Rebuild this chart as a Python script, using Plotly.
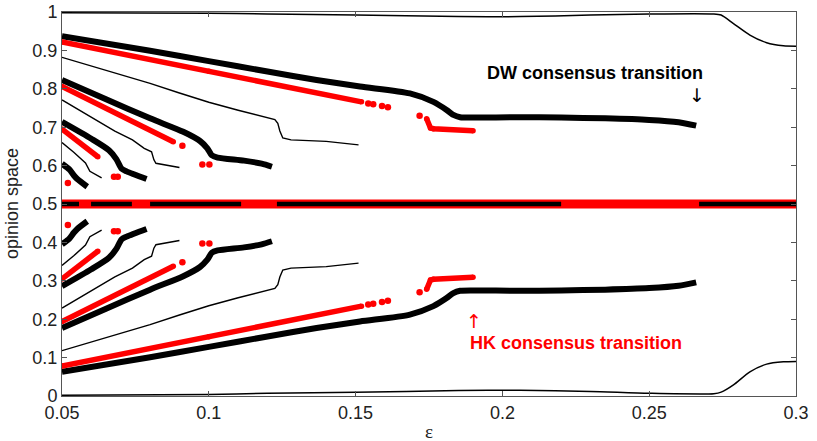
import plotly.graph_objects as go

# ---------------- data ----------------
# outer boundary clusters (thin)
eps_edge = [0.05, 0.1, 0.12, 0.15, 0.185, 0.206, 0.23, 0.25, 0.272, 0.2745, 0.2787, 0.2843, 0.29, 0.2957, 0.3]
edge_up = [0.998, 0.997, 0.995, 0.992, 0.988, 0.988, 0.992, 0.995, 0.995, 0.992, 0.970, 0.940, 0.920, 0.912, 0.911]
edge_low = [0.002, 0.004, 0.007, 0.010, 0.014, 0.015, 0.012, 0.007, 0.006, 0.010, 0.029, 0.063, 0.083, 0.089, 0.090]

# central cluster
eps_center_hk = [0.05, 0.3]
center_hk = [0.5, 0.5]
eps_center_dw = [0.05, 0.0558, None, 0.0599, 0.0738, None, 0.080, 0.111, None, 0.1232, 0.22, None, 0.267, 0.3]
center_dw = [0.5, 0.5, None, 0.5, 0.5, None, 0.5, 0.5, None, 0.5, 0.5, None, 0.5, 0.5]

# DW major clusters (thick black)
eps_dw_a = [0.05, 0.08, 0.1, 0.12, 0.1367, 0.1515, 0.1685, 0.1765, 0.181, 0.1833, 0.1856, 0.19, 0.205, 0.22, 0.235, 0.25, 0.26, 0.266]
dw_a_up = [0.937, 0.899, 0.872, 0.845, 0.823, 0.806, 0.788, 0.766, 0.745, 0.732, 0.726, 0.725, 0.726, 0.725, 0.723, 0.719, 0.713, 0.704]
dw_a_low = [0.063, 0.101, 0.128, 0.155, 0.177, 0.194, 0.212, 0.234, 0.255, 0.268, 0.274, 0.275, 0.274, 0.275, 0.277, 0.281, 0.287, 0.296]

eps_dw_d = [0.05, 0.065, 0.08, 0.0913, 0.097, 0.0995, 0.101, 0.103, 0.112, 0.118, 0.1215]
dw_d_up = [0.823, 0.773, 0.723, 0.688, 0.664, 0.645, 0.627, 0.621, 0.613, 0.605, 0.597]
dw_d_low = [0.177, 0.227, 0.277, 0.312, 0.336, 0.355, 0.373, 0.379, 0.387, 0.395, 0.403]

eps_dw_g = [0.05, 0.06, 0.066, 0.0685, 0.0703, 0.072, 0.0788]
dw_g_up = [0.714, 0.670, 0.640, 0.617, 0.592, 0.585, 0.565]
dw_g_low = [0.286, 0.330, 0.360, 0.383, 0.408, 0.415, 0.435]

eps_dw_j = [0.05, 0.0525, 0.054, 0.0552, 0.0586]
dw_j_up = [0.605, 0.590, 0.575, 0.565, 0.545]
dw_j_low = [0.395, 0.410, 0.425, 0.435, 0.455]

# DW minor clusters (thin black)
eps_dw_c = [0.05, 0.065, 0.08, 0.09, 0.1, 0.11, 0.118, 0.1225, 0.1235, 0.1242, 0.1252, 0.128, 0.14, 0.151]
dw_c_up = [0.882, 0.848, 0.814, 0.789, 0.765, 0.744, 0.729, 0.720, 0.710, 0.690, 0.672, 0.667, 0.663, 0.654]
dw_c_low = [0.118, 0.152, 0.186, 0.211, 0.235, 0.256, 0.271, 0.280, 0.290, 0.310, 0.328, 0.333, 0.337, 0.346]

eps_dw_f = [0.05, 0.06, 0.068, 0.074, 0.078, 0.0805, 0.0813, 0.082, 0.086, 0.09]
dw_f_up = [0.771, 0.726, 0.690, 0.667, 0.645, 0.636, 0.615, 0.606, 0.601, 0.595]
dw_f_low = [0.229, 0.274, 0.310, 0.333, 0.355, 0.364, 0.385, 0.394, 0.399, 0.405]

eps_dw_i = [0.05, 0.054, 0.058, 0.0595, 0.0635]
dw_i_up = [0.660, 0.635, 0.607, 0.585, 0.568]
dw_i_low = [0.340, 0.365, 0.393, 0.415, 0.432]

# HK clusters (red lines)
eps_hk_b = [0.05, 0.1, 0.152]
hk_b_up = [0.922, 0.846, 0.766]
hk_b_low = [0.078, 0.154, 0.234]

eps_hk_b2 = [0.1742, 0.1755, 0.1765, 0.19]
hk_b2_up = [0.722, 0.698, 0.696, 0.691]
hk_b2_low = [0.278, 0.302, 0.304, 0.309]

eps_hk_e = [0.05, 0.0879]
hk_e_up = [0.806, 0.662]
hk_e_low = [0.194, 0.338]

eps_hk_h = [0.05, 0.0622]
hk_h_up = [0.695, 0.623]
hk_h_low = [0.305, 0.377]

# HK isolated points (red dots)
eps_hk_dots = [0.1543, 0.156, 0.159, 0.161, 0.1718, 0.091, 0.0978, 0.1002, 0.0677, 0.069, 0.052]
hk_dots_up = [0.762, 0.760, 0.755, 0.752, 0.730, 0.652, 0.603, 0.603, 0.571, 0.571, 0.555]
hk_dots_low = [0.238, 0.240, 0.245, 0.248, 0.270, 0.348, 0.397, 0.397, 0.429, 0.429, 0.445]

x_ticks = [0.05, 0.1, 0.15, 0.2, 0.25, 0.3]
x_ticktext = ["0.05", "0.1", "0.15", "0.2", "0.25", "0.3"]
y_ticks = [0, 0.1, 0.2, 0.3, 0.4, 0.5, 0.6, 0.7, 0.8, 0.9, 1]
y_ticktext = ["0", "0.1", "0.2", "0.3", "0.4", "0.5", "0.6", "0.7", "0.8", "0.9", "1"]

# ---------------- figure ----------------
RED = "#ff0000"
fig = go.Figure()


def both(xs, up, low):
    return list(xs) + [None] + list(xs), list(up) + [None] + list(low)


def add_line(xs, ys, color, width, round_ends=False, smooth=False):
    line = dict(color=color, width=width)
    if smooth:
        line.update(shape="spline", smoothing=0.7)
    fig.add_trace(go.Scatter(x=xs, y=ys, mode="lines+markers" if round_ends else "lines",
                             line=line,
                             marker=dict(color=color, size=width, line=dict(width=0)),
                             hoverinfo="skip", showlegend=False, connectgaps=False))


# central cluster
add_line(eps_center_hk, center_hk, RED, 9)
add_line(eps_center_dw, center_dw, "black", 4.5)

# boundaries
add_line(*both(eps_edge, edge_up, edge_low), "black", 1.5, smooth=True)

# thick DW
for xs, up, low in [(eps_dw_a, dw_a_up, dw_a_low), (eps_dw_d, dw_d_up, dw_d_low),
                    (eps_dw_g, dw_g_up, dw_g_low), (eps_dw_j, dw_j_up, dw_j_low)]:
    add_line(*both(xs, up, low), "black", 6, smooth=True)

# HK red
for xs, up, low in [(eps_hk_b, hk_b_up, hk_b_low), (eps_hk_b2, hk_b2_up, hk_b2_low),
                    (eps_hk_e, hk_e_up, hk_e_low), (eps_hk_h, hk_h_up, hk_h_low)]:
    add_line(*both(xs, up, low), RED, 5.5, round_ends=True)

dx, dy = both(eps_hk_dots, hk_dots_up, hk_dots_low)
fig.add_trace(go.Scatter(x=dx, y=dy, mode="markers", marker=dict(color=RED, size=6.5, line=dict(width=0)),
                         hoverinfo="skip", showlegend=False))

# thin DW
for xs, up, low in [(eps_dw_c, dw_c_up, dw_c_low), (eps_dw_f, dw_f_up, dw_f_low),
                    (eps_dw_i, dw_i_up, dw_i_low)]:
    add_line(*both(xs, up, low), "black", 1.4)

FONT = "Liberation Sans, Arial, Helvetica, sans-serif"

axis_common = dict(showgrid=False, zeroline=False, showline=True, mirror="allticks",
                   linecolor="#555", linewidth=1, ticks="inside", ticklen=5, tickcolor="#555",
                   tickfont=dict(size=18, family=FONT, color="#222"), automargin=False)

fig.update_layout(
    width=817, height=441,
    margin=dict(l=62, r=21, t=12, b=45, pad=0, autoexpand=False),
    plot_bgcolor="white", paper_bgcolor="white",
    font=dict(family=FONT, size=18, color="#222"),
    xaxis=dict(range=[0.05, 0.3], tickvals=x_ticks, ticktext=x_ticktext, **axis_common),
    yaxis=dict(range=[0, 1], tickvals=y_ticks, ticktext=y_ticktext, **axis_common),
)

annotations = [
    dict(text="opinion space", xref="paper", yref="paper", x=0, y=0.5, xshift=-50,
         textangle=-90, showarrow=False, font=dict(size=18, family=FONT, color="#222"),
         xanchor="center", yanchor="middle"),
    dict(text="ε", xref="paper", yref="paper", x=0.5, y=0, yshift=-35,
         showarrow=False, font=dict(size=19, family="Liberation Serif, serif", color="#222"),
         xanchor="center", yanchor="middle"),
    dict(text="<b>DW consensus transition</b>", xref="x", yref="y", x=0.2317, y=0.841,
         showarrow=False, font=dict(size=18, family=FONT, color="black"),
         xanchor="center", yanchor="middle"),
    dict(text="↓", xref="x", yref="y", x=0.2663, y=0.784,
         showarrow=False, font=dict(size=19, family="DejaVu Sans, sans-serif", color="black"),
         xanchor="center", yanchor="middle"),
    dict(text="<b>HK consensus transition</b>", xref="x", yref="y", x=0.2251, y=0.138,
         showarrow=False, font=dict(size=18, family=FONT, color=RED),
         xanchor="center", yanchor="middle"),
    dict(text="↑", xref="x", yref="y", x=0.1903, y=0.1966,
         showarrow=False, font=dict(size=19, family="DejaVu Sans, sans-serif", color=RED),
         xanchor="center", yanchor="middle"),
]
fig.update_layout(annotations=annotations)

fig.write_html("out.html", config={"displayModeBar": False},
               post_script="document.body.style.margin='0';document.body.style.overflow='hidden';")
